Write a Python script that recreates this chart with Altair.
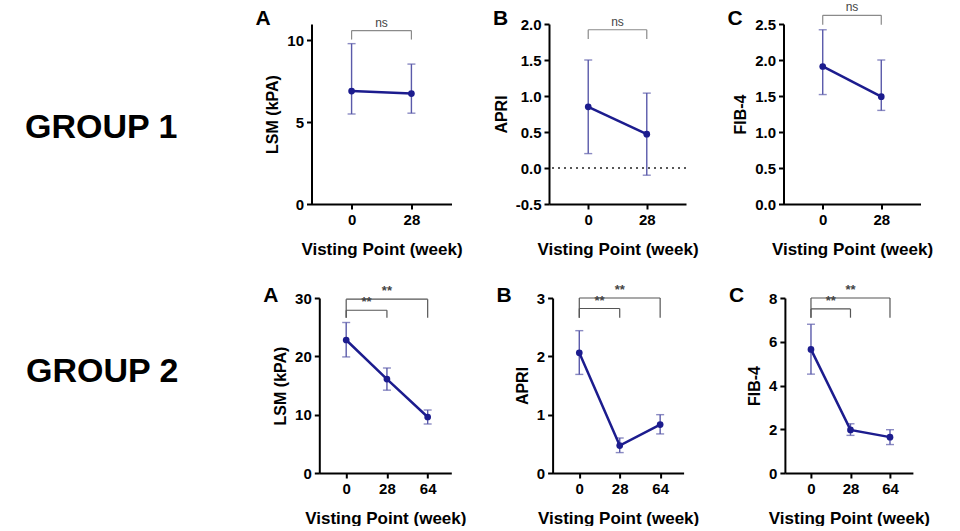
import altair as alt
import pandas as pd

# ---------------- data ----------------
weeks_g1 = ["0", "28"]
weeks_g2 = ["0", "28", "64"]

lsm_g1_mean = [6.9, 6.75]
lsm_g1_lo = [5.5, 5.55]
lsm_g1_hi = [9.8, 8.55]

apri_g1_mean = [0.85, 0.47]
apri_g1_lo = [0.2, -0.1]
apri_g1_hi = [1.5, 1.04]

fib4_g1_mean = [1.91, 1.49]
fib4_g1_lo = [1.52, 1.3]
fib4_g1_hi = [2.42, 2.0]

lsm_g2_mean = [22.8, 16.1, 9.6]
lsm_g2_lo = [19.9, 14.2, 8.4]
lsm_g2_hi = [25.8, 18.0, 10.8]

apri_g2_mean = [2.06, 0.47, 0.83]
apri_g2_lo = [1.69, 0.35, 0.67]
apri_g2_hi = [2.44, 0.6, 1.0]

fib4_g2_mean = [5.65, 1.97, 1.64]
fib4_g2_lo = [4.52, 1.72, 1.3]
fib4_g2_hi = [6.8, 2.25, 1.98]

# significance brackets: (from index, to index, bar level, leg end, label)
br_lsm_g1 = [(0, 1, 10.6, 10.05, "ns")]
br_apri_g1 = [(0, 1, 1.92, 1.79, "ns")]
br_fib4_g1 = [(0, 1, 2.62, 2.49, "ns")]
br_lsm_g2 = [(0, 2, 29.8, 26.6, "**"), (0, 1, 27.9, 26.6, "**")]
br_apri_g2 = [(0, 2, 3.0, 2.66, "**"), (0, 1, 2.82, 2.66, "**")]
br_fib4_g2 = [(0, 2, 8.0, 7.1, "**"), (0, 1, 7.5, 7.1, "**")]

FONT = "Liberation Sans"
NAVY = "#1c1c8e"
ERR = "#5a5aaa"
XTITLE = "Visting Point (week)"


def panel(letter, ytitle, weeks, mean, lo, hi, ydomain, yticks, yfmt,
          brackets, width, height, xdomain, letter_y, zero_line=False):
    df = pd.DataFrame({"idx": list(range(len(weeks))), "week": weeks,
                       "mean": mean, "lo": lo, "hi": hi})
    lab = "[" + ",".join("'%s'" % w for w in weeks) + "][datum.value]"
    xscale = alt.Scale(domain=xdomain, nice=False, zero=False)
    yscale = alt.Scale(domain=ydomain, nice=False, zero=False)
    xaxis = alt.Axis(values=list(range(len(weeks))), labelExpr=lab,
                     title=XTITLE, titlePadding=14, labelOverlap=False)
    yaxis = alt.Axis(values=[float(v) for v in yticks],
                     labelExpr="replace(format(datum.value, '%s'), '\u2212', '-')" % yfmt,
                     title=ytitle, titlePadding=6, labelOverlap=False)

    def X(f):
        return alt.X(f, scale=xscale, axis=xaxis)

    def Y(f):
        return alt.Y(f, scale=yscale, axis=yaxis)

    base = alt.Chart(df)
    err = base.mark_rule(color=ERR, strokeWidth=1.4).encode(
        x=X("idx:Q"), y=Y("lo:Q"), y2="hi:Q")
    cap_hi = base.mark_tick(color=ERR, orient="horizontal", size=8, thickness=1.4).encode(
        x=X("idx:Q"), y=Y("hi:Q"))
    cap_lo = base.mark_tick(color=ERR, orient="horizontal", size=8, thickness=1.4).encode(
        x=X("idx:Q"), y=Y("lo:Q"))
    line = base.mark_line(color=NAVY, strokeWidth=2.5).encode(
        x=X("idx:Q"), y=Y("mean:Q"))
    pts = base.mark_point(color=NAVY, filled=True, opacity=1, size=45).encode(
        x=X("idx:Q"), y=Y("mean:Q"))

    bdf = pd.DataFrame(brackets, columns=["x1", "x2", "bar", "leg", "label"])
    bdf["mid"] = (bdf["x1"] + bdf["x2"]) / 2
    is_ns = brackets[0][4] == "ns"
    bcol = "#8a8a8a" if is_ns else "#555555"
    bbase = alt.Chart(bdf)
    hbar = bbase.mark_rule(color=bcol, strokeWidth=1.2).encode(
        x=X("x1:Q"), x2="x2:Q", y=Y("bar:Q"))
    lleg = bbase.mark_rule(color=bcol, strokeWidth=1.2).encode(
        x=X("x1:Q"), y=Y("bar:Q"), y2="leg:Q")
    rleg = bbase.mark_rule(color=bcol, strokeWidth=1.2).encode(
        x=X("x2:Q"), y=Y("bar:Q"), y2="leg:Q")
    btxt = bbase.mark_text(baseline="bottom", dy=-1, font=FONT,
                           fontSize=12 if is_ns else 13,
                           fontWeight="normal" if is_ns else "bold",
                           color="#444444").encode(
        x=X("mid:Q"), y=Y("bar:Q"), text="label:N")

    letter_df = pd.DataFrame({"t": [letter]})
    ltxt = alt.Chart(letter_df).mark_text(
        align="left", baseline="bottom", font=FONT, fontSize=21,
        fontWeight="bold", color="black").encode(
        text="t:N", x=alt.value(-56), y=alt.value(letter_y))

    layers = [err, cap_hi, cap_lo, line, pts, hbar, lleg, rleg, btxt, ltxt]
    if zero_line:
        zl = alt.Chart(letter_df).mark_rule(color="#222222", strokeWidth=1.5,
                                            strokeDash=[2, 4]).encode(
            y=alt.Y(datum=0, type="quantitative", scale=yscale, axis=yaxis))
        layers.insert(0, zl)
    return alt.layer(*layers).properties(width=width, height=height)


def group_label(text, w, h, x, y):
    return alt.Chart(pd.DataFrame({"t": [text]})).mark_text(
        align="left", baseline="middle", font=FONT, fontSize=34,
        fontWeight="bold", color="black").encode(
        text="t:N", x=alt.value(x), y=alt.value(y)).properties(width=w, height=h)


H1 = 180
H2 = 175
XD1 = [-0.67, 1.67]
XD2 = [-0.66, 2.58]

top = alt.hconcat(
    group_label("GROUP 1", 214, H1, 25, 104),
    panel("A", "LSM (kPA)", weeks_g1, lsm_g1_mean, lsm_g1_lo, lsm_g1_hi,
          [0, 11], [0, 5, 10], "d", br_lsm_g1, 140, H1, XD1, 5),
    panel("B", "APRI", weeks_g1, apri_g1_mean, apri_g1_lo, apri_g1_hi,
          [-0.5, 2.0], [-0.5, 0, 0.5, 1.0, 1.5, 2.0], ".1f", br_apri_g1, 137, H1, XD1, 5,
          zero_line=True),
    panel("C", "FIB-4", weeks_g1, fib4_g1_mean, fib4_g1_lo, fib4_g1_hi,
          [0, 2.5], [0, 0.5, 1.0, 1.5, 2.0, 2.5], ".1f", br_fib4_g1, 137, H1, XD1, 5),
    spacing=97.5, bounds="flush")

bottom = alt.hconcat(
    group_label("GROUP 2", 218, H2, 26, 74),
    panel("A", "LSM (kPA)", weeks_g2, lsm_g2_mean, lsm_g2_lo, lsm_g2_hi,
          [0, 30], [0, 10, 20, 30], "d", br_lsm_g2, 132, H2, XD2, 8),
    panel("B", "APRI", weeks_g2, apri_g2_mean, apri_g2_lo, apri_g2_hi,
          [0, 3], [0, 1, 2, 3], "d", br_apri_g2, 131, H2, XD2, 8),
    panel("C", "FIB-4", weeks_g2, fib4_g2_mean, fib4_g2_lo, fib4_g2_hi,
          [0, 8], [0, 2, 4, 6, 8], "d", br_fib4_g2, 128, H2, XD2, 8),
    spacing=101.3, bounds="flush")

chart = alt.vconcat(top, bottom, spacing=27, bounds="full").properties(
    padding={"left": 0, "top": 1, "right": 0, "bottom": 0},
    background="white"
).configure_view(stroke=None).configure_axis(
    grid=False, domainColor="black", domainWidth=2, tickColor="black",
    tickWidth=2, tickSize=5, labelFont=FONT, labelFontWeight="bold",
    labelFontSize=15, labelColor="black", labelPadding=3, labelOverlap=False,
    titleFont=FONT, titleFontWeight="bold", titleColor="black"
).configure_axisX(titleFontSize=17).configure_axisY(titleFontSize=16)

chart.save("out.html", embed_options={"renderer": "svg", "actions": False})
